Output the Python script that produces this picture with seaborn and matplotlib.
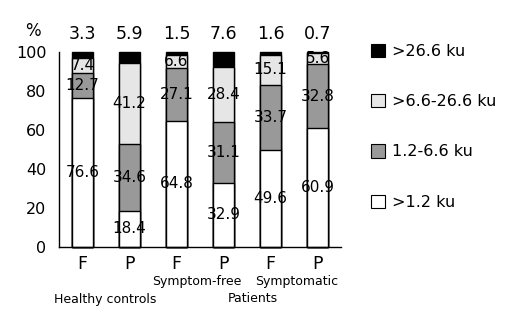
import matplotlib
matplotlib.use("Agg")
import matplotlib.pyplot as plt
import matplotlib.transforms as mtransforms
from matplotlib.patches import Patch
import seaborn as sns
import pandas as pd
import numpy as np

sns.set_style("white")
plt.rcParams['font.family'] = ['DejaVu Sans']
plt.rcParams['text.color'] = 'black'
plt.rcParams['xtick.color'] = 'black'
plt.rcParams['ytick.color'] = 'black'

categories = ["HC-F", "HC-P", "SF-F", "SF-P", "SY-F", "SY-P"]
tick_labels = ["F", "P", "F", "P", "F", "P"]
low = [76.6, 18.4, 64.8, 32.9, 49.6, 60.9]        # >1.2 ku
mid = [12.7, 34.6, 27.1, 31.1, 33.7, 32.8]        # 1.2-6.6 ku
high = [7.4, 41.2, 6.6, 28.4, 15.1, 5.6]          # >6.6-26.6 ku
top = [3.3, 5.9, 1.5, 7.6, 1.6, 0.7]              # >26.6 ku
series_names = [">26.6 ku", ">6.6-26.6 ku", "1.2-6.6 ku", ">1.2 ku"]
colors = {">26.6 ku": "#000000", ">6.6-26.6 ku": "#e6e6e6",
          "1.2-6.6 ku": "#999999", ">1.2 ku": "#ffffff"}

low_a = np.array(low); mid_a = np.array(mid); high_a = np.array(high); top_a = np.array(top)
cum = {
    ">1.2 ku": low_a,
    "1.2-6.6 ku": low_a + mid_a,
    ">6.6-26.6 ku": low_a + mid_a + high_a,
    ">26.6 ku": low_a + mid_a + high_a + top_a,
}

fig = plt.figure(figsize=(5.17, 3.27), dpi=100)
ax = fig.add_axes([0.114, 0.245, 0.546, 0.596])

for name in series_names:
    df = pd.DataFrame({"cat": categories, "val": cum[name]})
    sns.barplot(data=df, x="cat", y="val", order=categories, color=colors[name],
                width=0.45, edgecolor="black", linewidth=1.0, saturation=1,
                ax=ax, errorbar=None)

for p in ax.patches:
    p.set_clip_on(False)

# labels inside segments
for i in range(len(categories)):
    b0 = 0
    for vals in (low, mid, high):
        v = vals[i]
        ax.text(i, b0 + v / 2, f"{v}", ha="center", va="center", fontsize=11,
                color="black")
        b0 += v
    ax.text(i, 109, f"{top[i]}", ha="center", va="center", fontsize=12.5,
            color="black", clip_on=False)

ax.set_ylim(0, 100)
ax.set_xlim(-0.5, 5.5)
ax.set_yticks([0, 20, 40, 60, 80, 100])
ax.set_xticks(range(6))
ax.set_xticklabels(tick_labels, fontsize=12.5)
ax.set_xticks(np.arange(-0.5, 6, 1), minor=True)
ax.tick_params(axis="x", which="major", length=0, pad=6)
ax.tick_params(axis="x", which="minor", length=8, width=1, direction="out", color="black")
ax.tick_params(axis="y", length=6, width=1, direction="out", color="black", labelsize=11.5, pad=3)
ax.set_xlabel("")
ax.set_ylabel("")
for s in ["top", "right"]:
    ax.spines[s].set_visible(False)
for s in ["left", "bottom"]:
    ax.spines[s].set_color("black")
    ax.spines[s].set_linewidth(1)

ax.text(-0.88, 111, "%", ha="right", va="center", fontsize=12, clip_on=False)

trans = mtransforms.blended_transform_factory(ax.transData, fig.transFigure)
ax.text(2.44, 1 - 281 / 327, "Symptom-free", transform=trans, ha="center", va="center", fontsize=9)
ax.text(4.56, 1 - 281 / 327, "Symptomatic", transform=trans, ha="center", va="center", fontsize=9)
ax.text(0.48, 1 - 299 / 327, "Healthy controls", transform=trans, ha="center", va="center", fontsize=9)
ax.text(3.63, 1 - 299 / 327, "Patients", transform=trans, ha="center", va="center", fontsize=9)

handles = [Patch(facecolor=colors[n], edgecolor="black", linewidth=0.8, label=n) for n in series_names]
fig.legend(handles=handles, loc="upper left", bbox_to_anchor=(0.69, 0.91), frameon=False,
           fontsize=11.5, handlelength=0.9, handleheight=0.9, labelspacing=2.2, handletextpad=0.4)

fig.savefig("out.png", dpi=100)
